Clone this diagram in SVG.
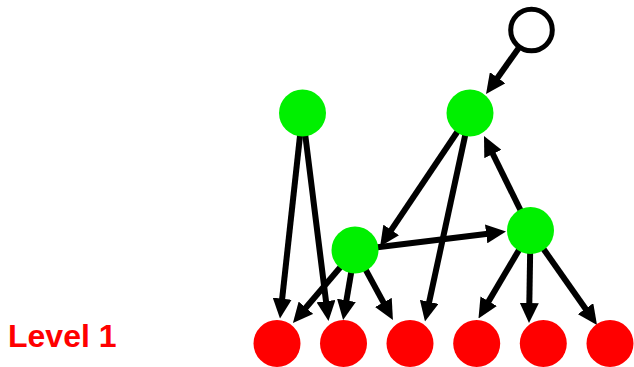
<svg xmlns="http://www.w3.org/2000/svg" width="634" height="367" viewBox="0 0 634 367">
<style>
.edge{stroke:#000;stroke-width:6;fill:none;marker-end:url(#arr)}
.green{fill:#00f000}
.red{fill:#ff0000}
.root{fill:#fff;stroke:#000;stroke-width:5}
.label{font-family:"Liberation Sans",Arial,sans-serif;font-weight:bold;font-size:32px;fill:#ff0000}
</style>
<defs>
<marker id="arr" markerUnits="userSpaceOnUse" viewBox="0 0 20 19" markerWidth="20" markerHeight="19" refX="8" refY="9.5" orient="auto">
<path d="M0,0 L20,9.5 L0,19 z" fill="#000"/>
</marker>
</defs>
<rect width="634" height="367" fill="#fff"/>
<g id="connectors">
<line class="edge" x1="531.5" y1="30" x2="493.0" y2="84.2"/>
<line class="edge" x1="302.5" y1="113" x2="281.3" y2="306.6"/>
<line class="edge" x1="302.5" y1="113" x2="327.0" y2="309.1"/>
<line class="edge" x1="470" y1="113" x2="386.8" y2="236.6"/>
<line class="edge" x1="470" y1="113" x2="427.5" y2="309.7"/>
<line class="edge" x1="530.5" y1="230.5" x2="489.3" y2="146.8"/>
<line class="edge" x1="355" y1="250" x2="494.1" y2="232.9"/>
<line class="edge" x1="355" y1="250" x2="300.7" y2="313.8"/>
<line class="edge" x1="355" y1="250" x2="345.1" y2="308.2"/>
<line class="edge" x1="355" y1="250" x2="387.2" y2="309.4"/>
<line class="edge" x1="530.5" y1="230.5" x2="484.6" y2="308.1"/>
<line class="edge" x1="530.5" y1="230.5" x2="529.2" y2="311.0"/>
<line class="edge" x1="530.5" y1="230.5" x2="590.1" y2="315.2"/>
</g>
<g id="root"><circle class="root" cx="531.5" cy="30" r="20.8"/></g>
<g id="g1"><circle class="green" cx="302.5" cy="113" r="23.5"/></g>
<g id="g2"><circle class="green" cx="470" cy="113" r="23.5"/></g>
<g id="g3"><circle class="green" cx="355" cy="250" r="23.5"/></g>
<g id="g4"><circle class="green" cx="530.5" cy="230.5" r="23.5"/></g>
<g id="r1"><circle class="red" cx="277" cy="343.5" r="23.5"/></g>
<g id="r2"><circle class="red" cx="343.5" cy="343.5" r="23.5"/></g>
<g id="r3"><circle class="red" cx="410" cy="343.5" r="23.5"/></g>
<g id="r4"><circle class="red" cx="476.7" cy="343.5" r="23.5"/></g>
<g id="r5"><circle class="red" cx="543.3" cy="343.5" r="23.5"/></g>
<g id="r6"><circle class="red" cx="610" cy="343.5" r="23.5"/></g>
<g id="level-label"><text class="label" x="8" y="347">Level 1</text></g>
</svg>
